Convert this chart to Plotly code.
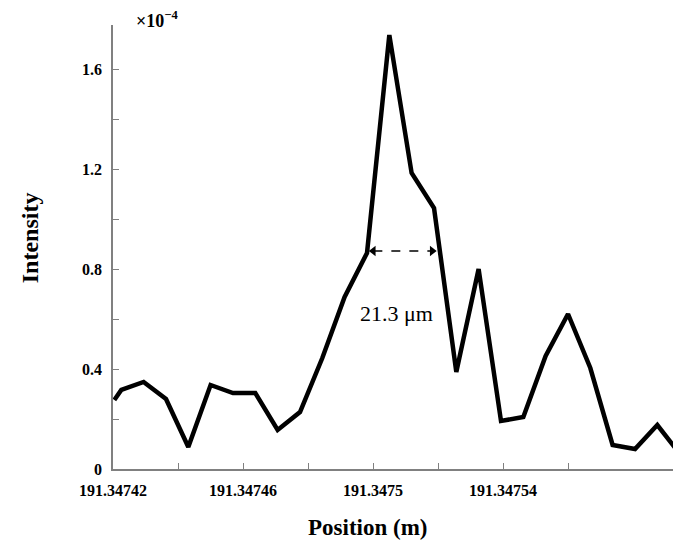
import plotly.graph_objects as go

# Data (positions in m, intensity in units of 1e-4)
base = 191.34742
offset_um = [0.4, 2.55, 9.42, 16.31, 23.17, 30.03, 36.92, 43.78, 50.65, 57.54,
             64.40, 71.26, 78.15, 85.02, 91.88, 98.77, 105.63, 112.49, 119.38,
             126.25, 133.11, 140.00, 146.86, 153.72, 160.62, 167.48, 174.34]
intensity = [0.276, 0.316, 0.348, 0.280, 0.088, 0.336, 0.304, 0.304, 0.156, 0.228,
             0.444, 0.688, 0.864, 1.736, 1.184, 1.044, 0.388, 0.800, 0.192,
             0.208, 0.452, 0.620, 0.404, 0.096, 0.080, 0.176, 0.062]
position = [base + o * 1e-6 for o in offset_um]

x_tickvals = [191.34742, 191.34746, 191.34750, 191.34754]
x_ticktext = ["191.34742", "191.34746", "191.3475", "191.34754"]
x_minor_vals = [191.34744, 191.34748, 191.34752, 191.34756]
y_tickvals = [0, 0.4, 0.8, 1.2, 1.6]
y_ticktext = ["0", "0.4", "0.8", "1.2", "1.6"]
y_minor_vals = [0.2, 0.6, 1.0, 1.4]

fwhm_left_um = 78.5
fwhm_right_um = 99.8
fwhm_level = 0.872
fwhm_label = "21.3 μm"

serif = "Liberation Serif"

fig = go.Figure()
fig.add_trace(go.Scatter(x=position, y=intensity, mode="lines",
                         line=dict(color="black", width=4.5),
                         showlegend=False, hoverinfo="skip"))

xl = base + fwhm_left_um * 1e-6
xr = base + fwhm_right_um * 1e-6
fig.add_trace(go.Scatter(x=[xl + 1.6e-6, xr - 1.6e-6], y=[fwhm_level, fwhm_level],
                         mode="lines+markers",
                         line=dict(color="black", width=1.5, dash="dash"),
                         marker=dict(symbol=["triangle-left", "triangle-right"],
                                     size=9, color="black"),
                         showlegend=False, hoverinfo="skip"))

fig.add_annotation(x=base + 87.2e-6, y=0.624, xref="x", yref="y", text=fwhm_label,
                   showarrow=False, xanchor="center", yanchor="middle",
                   font=dict(family=serif, size=22, color="black"))

fig.add_annotation(x=0.079, y=1.012, xref="paper", yref="paper",
                   text="×10<sup>−4</sup>", showarrow=False,
                   xanchor="center", yanchor="middle",
                   font=dict(family=serif, size=18, color="black", weight="bold"))
fig.add_annotation(x=0.454, y=-0.132, xref="paper", yref="paper",
                   text="Position (m)", showarrow=False,
                   xanchor="center", yanchor="middle",
                   font=dict(family=serif, size=23, color="black", weight="bold"))
fig.add_annotation(x=-0.148, y=0.52, xref="paper", yref="paper",
                   text="Intensity", showarrow=False, textangle=-90,
                   xanchor="center", yanchor="middle",
                   font=dict(family=serif, size=24, color="black", weight="bold"))

axis_common = dict(showline=True, linecolor="#808080", linewidth=1.5,
                   ticks="inside", ticklen=6, tickwidth=1.2, tickcolor="#808080",
                   showgrid=False, zeroline=False, mirror=False,
                   tickfont=dict(family=serif, size=16, color="black", weight="bold"))
minor_common = dict(ticks="inside", ticklen=6, tickwidth=1.2, tickcolor="#808080",
                    showgrid=False)

fig.update_xaxes(range=[base, base + 172.3e-6], tickmode="array",
                 tickvals=x_tickvals, ticktext=x_ticktext, ticklabelstandoff=6,
                 minor=dict(tickmode="array", tickvals=x_minor_vals, **minor_common),
                 **axis_common)
fig.update_yaxes(range=[0, 1.776], tickmode="array",
                 tickvals=y_tickvals, ticktext=y_ticktext, ticklabelstandoff=6,
                 minor=dict(tickmode="array", tickvals=y_minor_vals, **minor_common),
                 **axis_common)

fig.update_layout(width=673, height=545, margin=dict(l=113, r=0, t=25, b=76),
                  paper_bgcolor="white", plot_bgcolor="white")

fig.write_html("out.html", config={"displayModeBar": False},
               post_script="document.body.style.margin='0';"
                           "document.body.style.overflow='hidden';")
